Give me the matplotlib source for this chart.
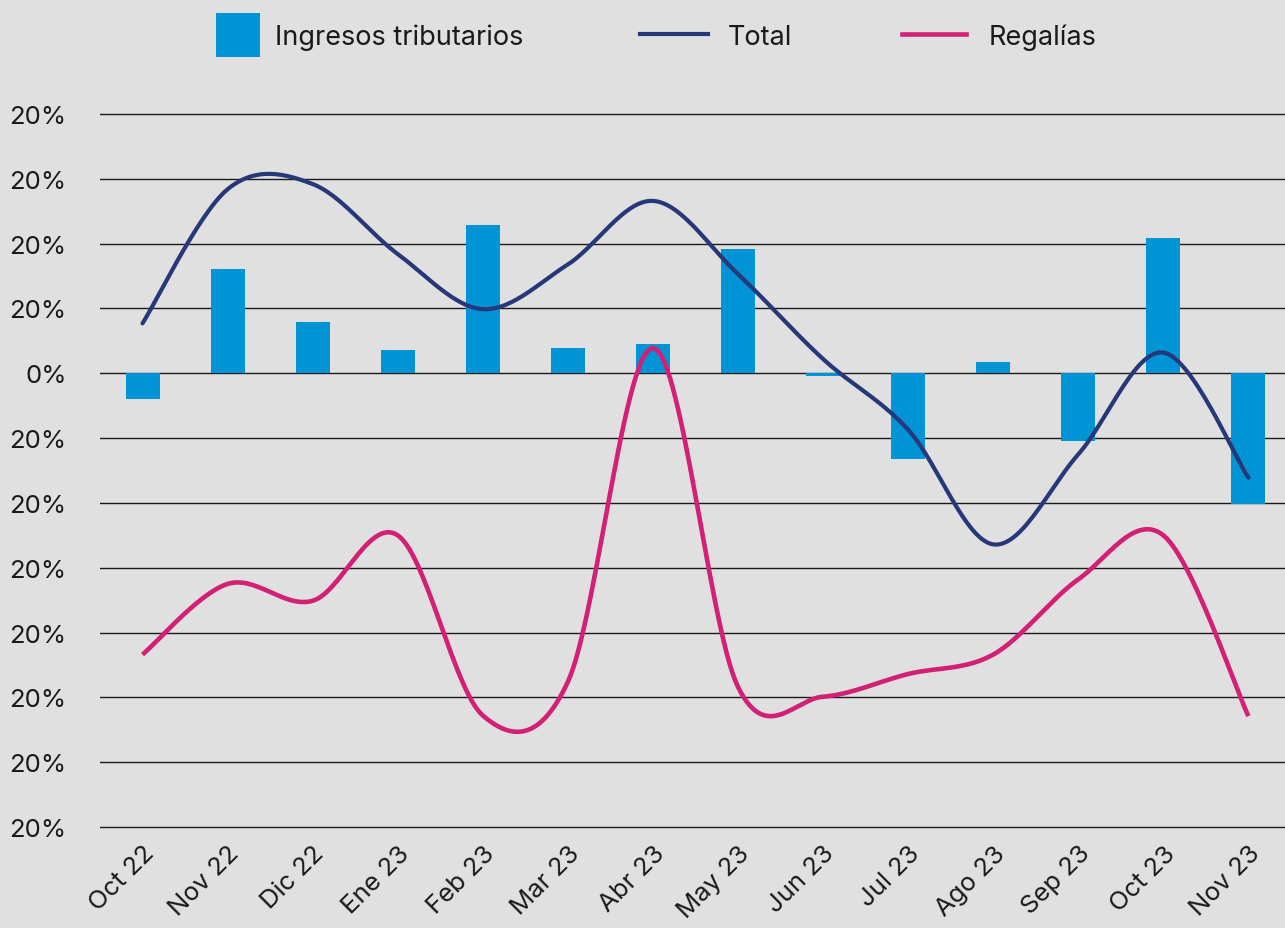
import numpy as np
import matplotlib.pyplot as plt
from matplotlib.patches import Rectangle
from matplotlib.lines import Line2D
import matplotlib.transforms as mtransforms

plt.rcParams['font.family'] = ['Inter', 'DejaVu Sans']

# Data (one grid step = 1 unit)
meses = ['Oct 22', 'Nov 22', 'Dic 22', 'Ene 23', 'Feb 23', 'Mar 23', 'Abr 23',
         'May 23', 'Jun 23', 'Jul 23', 'Ago 23', 'Sep 23', 'Oct 23', 'Nov 23']
ingresos = [-0.40, 1.61, 0.79, 0.36, 2.29, 0.39, 0.45, 1.92, -0.04, -1.33,
            0.17, -1.04, 2.09, -2.02]
total = [0.77, 2.84, 2.92, 1.84, 0.99, 1.68, 2.66, 1.53, 0.22, -0.87,
         -2.64, -1.25, 0.32, -1.61]
regalias = [-4.34, -3.25, -3.51, -2.50, -5.28, -4.76, 0.39, -4.84, -4.99,
            -4.64, -4.34, -3.18, -2.50, -5.29]
yticks = [4, 3, 2, 1, 0, -1, -2, -3, -4, -5, -6, -7]
ytick_labels = ['20%', '20%', '20%', '20%', '0%', '20%', '20%', '20%', '20%',
                '20%', '20%', '20%']
series_names = ['Ingresos tributarios', 'Total', 'Regalías']

C_BAR = '#0093D6'
C_TOTAL = '#26387A'
C_REG = '#D31F74'
BG = '#E0E0E0'
W, H = 1285, 929


def smooth(y, n=30):
    """Excel-like smoothed line (Catmull-Rom as cubic Bezier)."""
    y = np.asarray(y, dtype=float)
    x = np.arange(len(y), dtype=float)
    pts = np.column_stack([x, y])
    out = []
    for i in range(len(pts) - 1):
        p0 = pts[i - 1] if i > 0 else pts[i]
        p1, p2 = pts[i], pts[i + 1]
        p3 = pts[i + 2] if i + 2 < len(pts) else pts[i + 1]
        c1 = p1 + (p2 - p0) / 6.0
        c2 = p2 - (p3 - p1) / 6.0
        t = np.linspace(0, 1, n, endpoint=False)[:, None]
        seg = ((1 - t) ** 3) * p1 + 3 * ((1 - t) ** 2) * t * c1 \
            + 3 * (1 - t) * t ** 2 * c2 + t ** 3 * p2
        out.append(seg)
    out.append(pts[-1:])
    out = np.vstack(out)
    return out[:, 0], out[:, 1]


fig = plt.figure(figsize=(W / 100, H / 100), dpi=100, facecolor=BG)
top_px, bot_px = 111.8, 831.2
ax = fig.add_axes([100 / W, 1 - bot_px / H, 1 - 100 / W, (bot_px - top_px) / H])
ax.set_facecolor(BG)

x = np.arange(len(meses))
ax.bar(x, ingresos, width=0.4, color=C_BAR, zorder=2)
tx, ty = smooth(total)
ax.plot(tx, ty, color=C_TOTAL, lw=3, zorder=3, solid_capstyle='round')
rx, ry = smooth(regalias)
ax.plot(rx, ry, color=C_REG, lw=3.3, zorder=3, solid_capstyle='butt')

ax.set_xlim(-0.5, 13.43)
ax.set_ylim(-7.05, 4.05)
ax.set_yticks(yticks)
ax.set_yticklabels(ytick_labels, fontsize=18.5)
ax.grid(axis='y', color='#1a1a1a', lw=1.0, zorder=1)
ax.set_xticks(x)
ax.set_xticklabels(meses, fontsize=18.5, rotation=45, ha='right',
                   rotation_mode='anchor')
offset = mtransforms.ScaledTranslation(26 / 100, -16 / 100, fig.dpi_scale_trans)
for lab in ax.get_xticklabels():
    lab.set_transform(lab.get_transform() + offset)
ax.tick_params(axis='both', length=0, colors='#1a1a1a')
ax.tick_params(axis='y', pad=24)
ax.tick_params(axis='x', pad=8)
for s in ax.spines.values():
    s.set_visible(False)

# legend drawn by hand to match the square marker and long line keys
def fx(px):
    return px / W


def fy(py):
    return 1 - py / H


ly = 35
fig.add_artist(Rectangle((fx(216), fy(58)), 44 / W, 44 / H, facecolor=C_BAR,
                         edgecolor='none', transform=fig.transFigure))
fig.add_artist(Line2D([fx(640), fx(708)], [fy(ly), fy(ly)], color=C_TOTAL,
                      lw=3, transform=fig.transFigure))
fig.add_artist(Line2D([fx(902), fx(966)], [fy(ly), fy(ly)], color=C_REG,
                      lw=3.3, transform=fig.transFigure))
for name, tx0 in zip(series_names, [275, 728, 989]):
    fig.text(fx(tx0), fy(ly + 3), name, fontsize=19.5, va='center', ha='left',
             color='#1a1a1a')

fig.savefig('out.png', dpi=100, facecolor=BG)
